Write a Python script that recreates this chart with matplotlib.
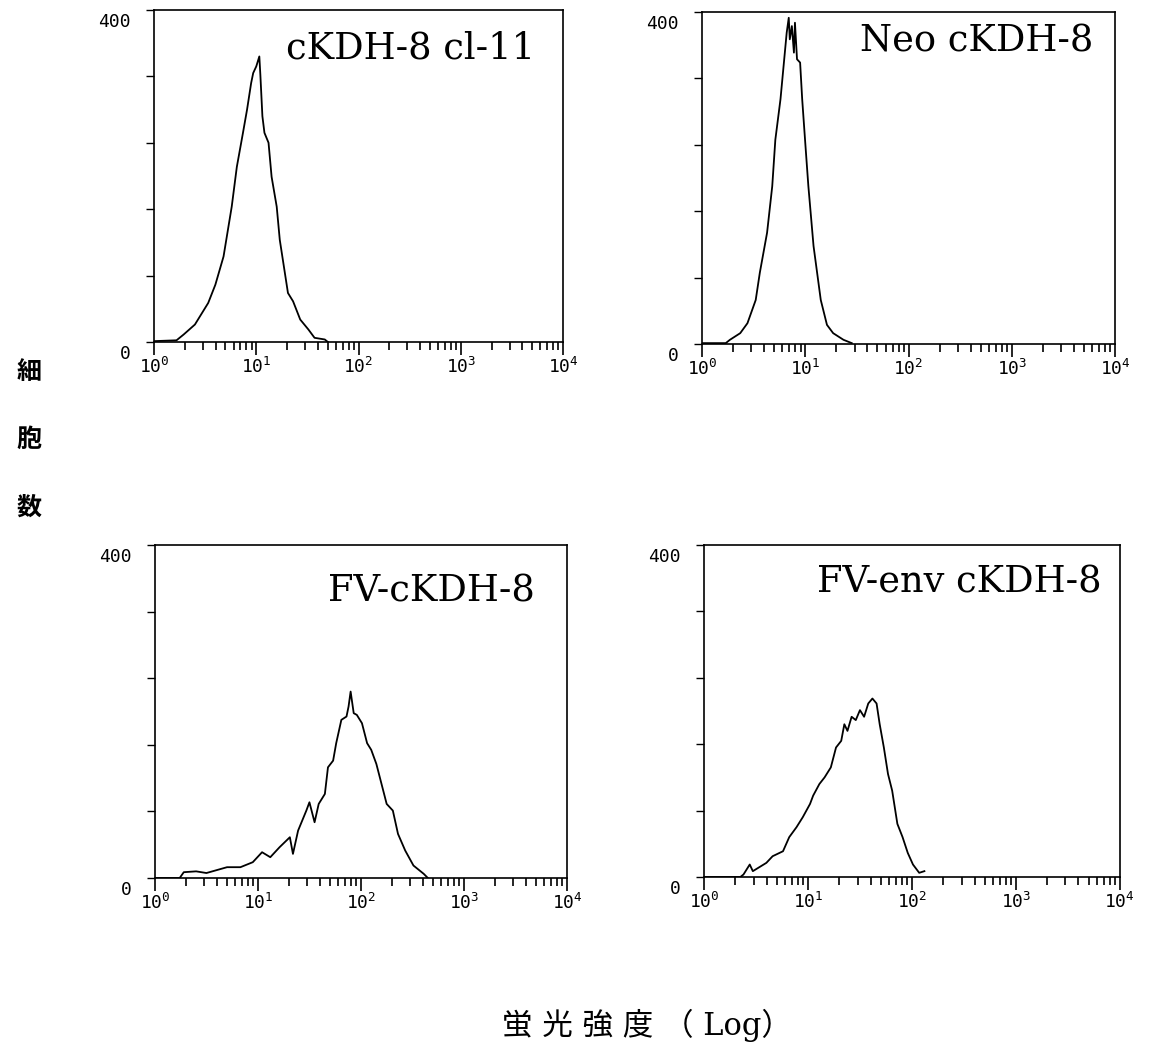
import matplotlib

matplotlib.use('agg')
import numpy as np
import matplotlib.pyplot as plt
from matplotlib.transforms import ScaledTranslation

plt.rcParams['mathtext.fontset'] = 'custom'
plt.rcParams['mathtext.rm'] = 'DejaVu Sans Mono'
plt.rcParams['mathtext.it'] = 'DejaVu Sans Mono'

# panel names
titles = ['cKDH-8 cl-11', 'Neo cKDH-8', 'FV-cKDH-8', 'FV-env cKDH-8']

# log10(fluorescence) and cell count
log_tl = [0.00, 0.22, 0.29, 0.40, 0.53, 0.60, 0.68, 0.76, 0.81, 0.87, 0.91, 0.95, 0.97, 1.00, 1.03,
          1.04, 1.06, 1.08, 1.12, 1.15, 1.20, 1.23, 1.28, 1.31, 1.36, 1.43, 1.51, 1.57, 1.67, 1.70]
cnt_tl = [1, 2, 9, 21, 47, 69, 103, 163, 211, 252, 280, 312, 324, 332, 344,
          322, 272, 252, 240, 199, 163, 123, 83, 59, 49, 27, 15, 5, 3, 0]

log_tr = [0.00, 0.23, 0.27, 0.37, 0.44, 0.52, 0.56, 0.63, 0.68, 0.71, 0.76, 0.79, 0.82, 0.84, 0.85,
          0.87, 0.89, 0.90, 0.92, 0.95, 0.97, 1.00, 1.03, 1.08, 1.15, 1.21, 1.27, 1.37, 1.45]
cnt_tr = [1, 1, 5, 13, 25, 53, 86, 134, 190, 246, 295, 335, 375, 393, 367,
          383, 351, 387, 343, 339, 295, 242, 190, 118, 53, 23, 13, 5, 1]

log_bl = [0.00, 0.24, 0.28, 0.40, 0.50, 0.70, 0.83, 0.95, 1.04, 1.12, 1.21, 1.31, 1.34, 1.39, 1.47,
          1.50, 1.55, 1.59, 1.65, 1.68, 1.73, 1.76, 1.81, 1.86, 1.88, 1.90, 1.93, 1.96, 2.01, 2.06,
          2.10, 2.15, 2.20, 2.25, 2.31, 2.36, 2.43, 2.51, 2.61, 2.65]
cnt_bl = [0, 0, 7, 8, 6, 13, 13, 19, 31, 25, 37, 49, 29, 57, 81,
          91, 67, 89, 101, 133, 141, 162, 190, 194, 206, 224, 198, 196, 186, 162,
          154, 137, 113, 89, 81, 53, 33, 15, 5, 0]

log_br = [0.00, 0.35, 0.38, 0.44, 0.47, 0.60, 0.66, 0.76, 0.82, 0.89, 0.95, 1.02, 1.05, 1.11, 1.16,
          1.22, 1.27, 1.32, 1.35, 1.38, 1.42, 1.46, 1.50, 1.54, 1.58, 1.62, 1.66, 1.69, 1.73, 1.77,
          1.81, 1.86, 1.91, 1.96, 2.01, 2.07, 2.12]
cnt_br = [0, 0, 3, 15, 7, 17, 25, 31, 48, 60, 72, 88, 98, 112, 120,
          132, 156, 164, 184, 176, 193, 189, 201, 193, 209, 215, 209, 184, 156, 124,
          104, 64, 48, 29, 15, 5, 7]

curves = [(log_tl, cnt_tl), (log_tr, cnt_tr), (log_bl, cnt_bl), (log_br, cnt_br)]

y_ticks = [0, 80, 160, 240, 320, 400]
y_ticklabels = ['0', '', '', '', '', '400']
decades = [1, 10, 100, 1000, 10000]

# axes boxes in figure fractions, and where the title sits inside
boxes = [[0.1337, 0.6737, 0.355, 0.3168],
         [0.6094, 0.6718, 0.3585, 0.3168],
         [0.1345, 0.1622, 0.3576, 0.3177],
         [0.6111, 0.1632, 0.361, 0.3168]]
title_pos = [(0.932, 0.855), (0.947, 0.88), (0.922, 0.829), (0.957, 0.858)]

fig = plt.figure(figsize=(11.52, 10.48), dpi=100)

for i in range(4):
	ax = fig.add_axes(boxes[i])
	logs, counts = curves[i]
	ax.plot(10 ** np.array(logs), counts, color='black', lw=1.3)

	ax.set_xscale('log')
	ax.set_xlim(1, 10000)
	ax.set_ylim(0, 400)

	ax.set_xticks(decades)
	ax.set_xticklabels([f'$10^{{{k}}}$' for k in range(5)], fontsize=13)
	ax.set_yticks(y_ticks)
	ax.set_yticklabels(y_ticklabels, family='DejaVu Sans Mono', fontsize=13)

	ax.tick_params(axis='x', which='major', direction='out', length=9, width=1.2, pad=2)
	ax.tick_params(axis='x', which='minor', direction='out', length=5.5, width=1.2)
	ax.tick_params(axis='y', which='major', direction='out', length=6, width=1.0, pad=11)

	# value labels sit a little below their ticks
	offset = ScaledTranslation(0, -0.10, fig.dpi_scale_trans)
	for lab in ax.get_yticklabels():
		lab.set_transform(lab.get_transform() + offset)

	for s in ax.spines.values():
		s.set_linewidth(1.2)

	tx, ty = title_pos[i]
	ax.text(tx, ty, titles[i], transform=ax.transAxes, ha='right', va='baseline',
			family='DejaVu Serif', fontsize=26.5)

# vertical y label, one character per line
for ch, yy in zip(['細', '胞', '数'], [0.645, 0.580, 0.516]):
	fig.text(0.025, yy, ch, ha='center', va='center', family=['Noto Sans CJK JP', 'DejaVu Sans'],
			 fontsize=18, weight='bold')

fig.text(0.562, 0.022, '蛍 光 強 度 （ Log）', ha='center', va='center',
		 family=['DejaVu Serif', 'Noto Sans CJK JP'], fontsize=22)

fig.savefig('out.png', dpi=100)
